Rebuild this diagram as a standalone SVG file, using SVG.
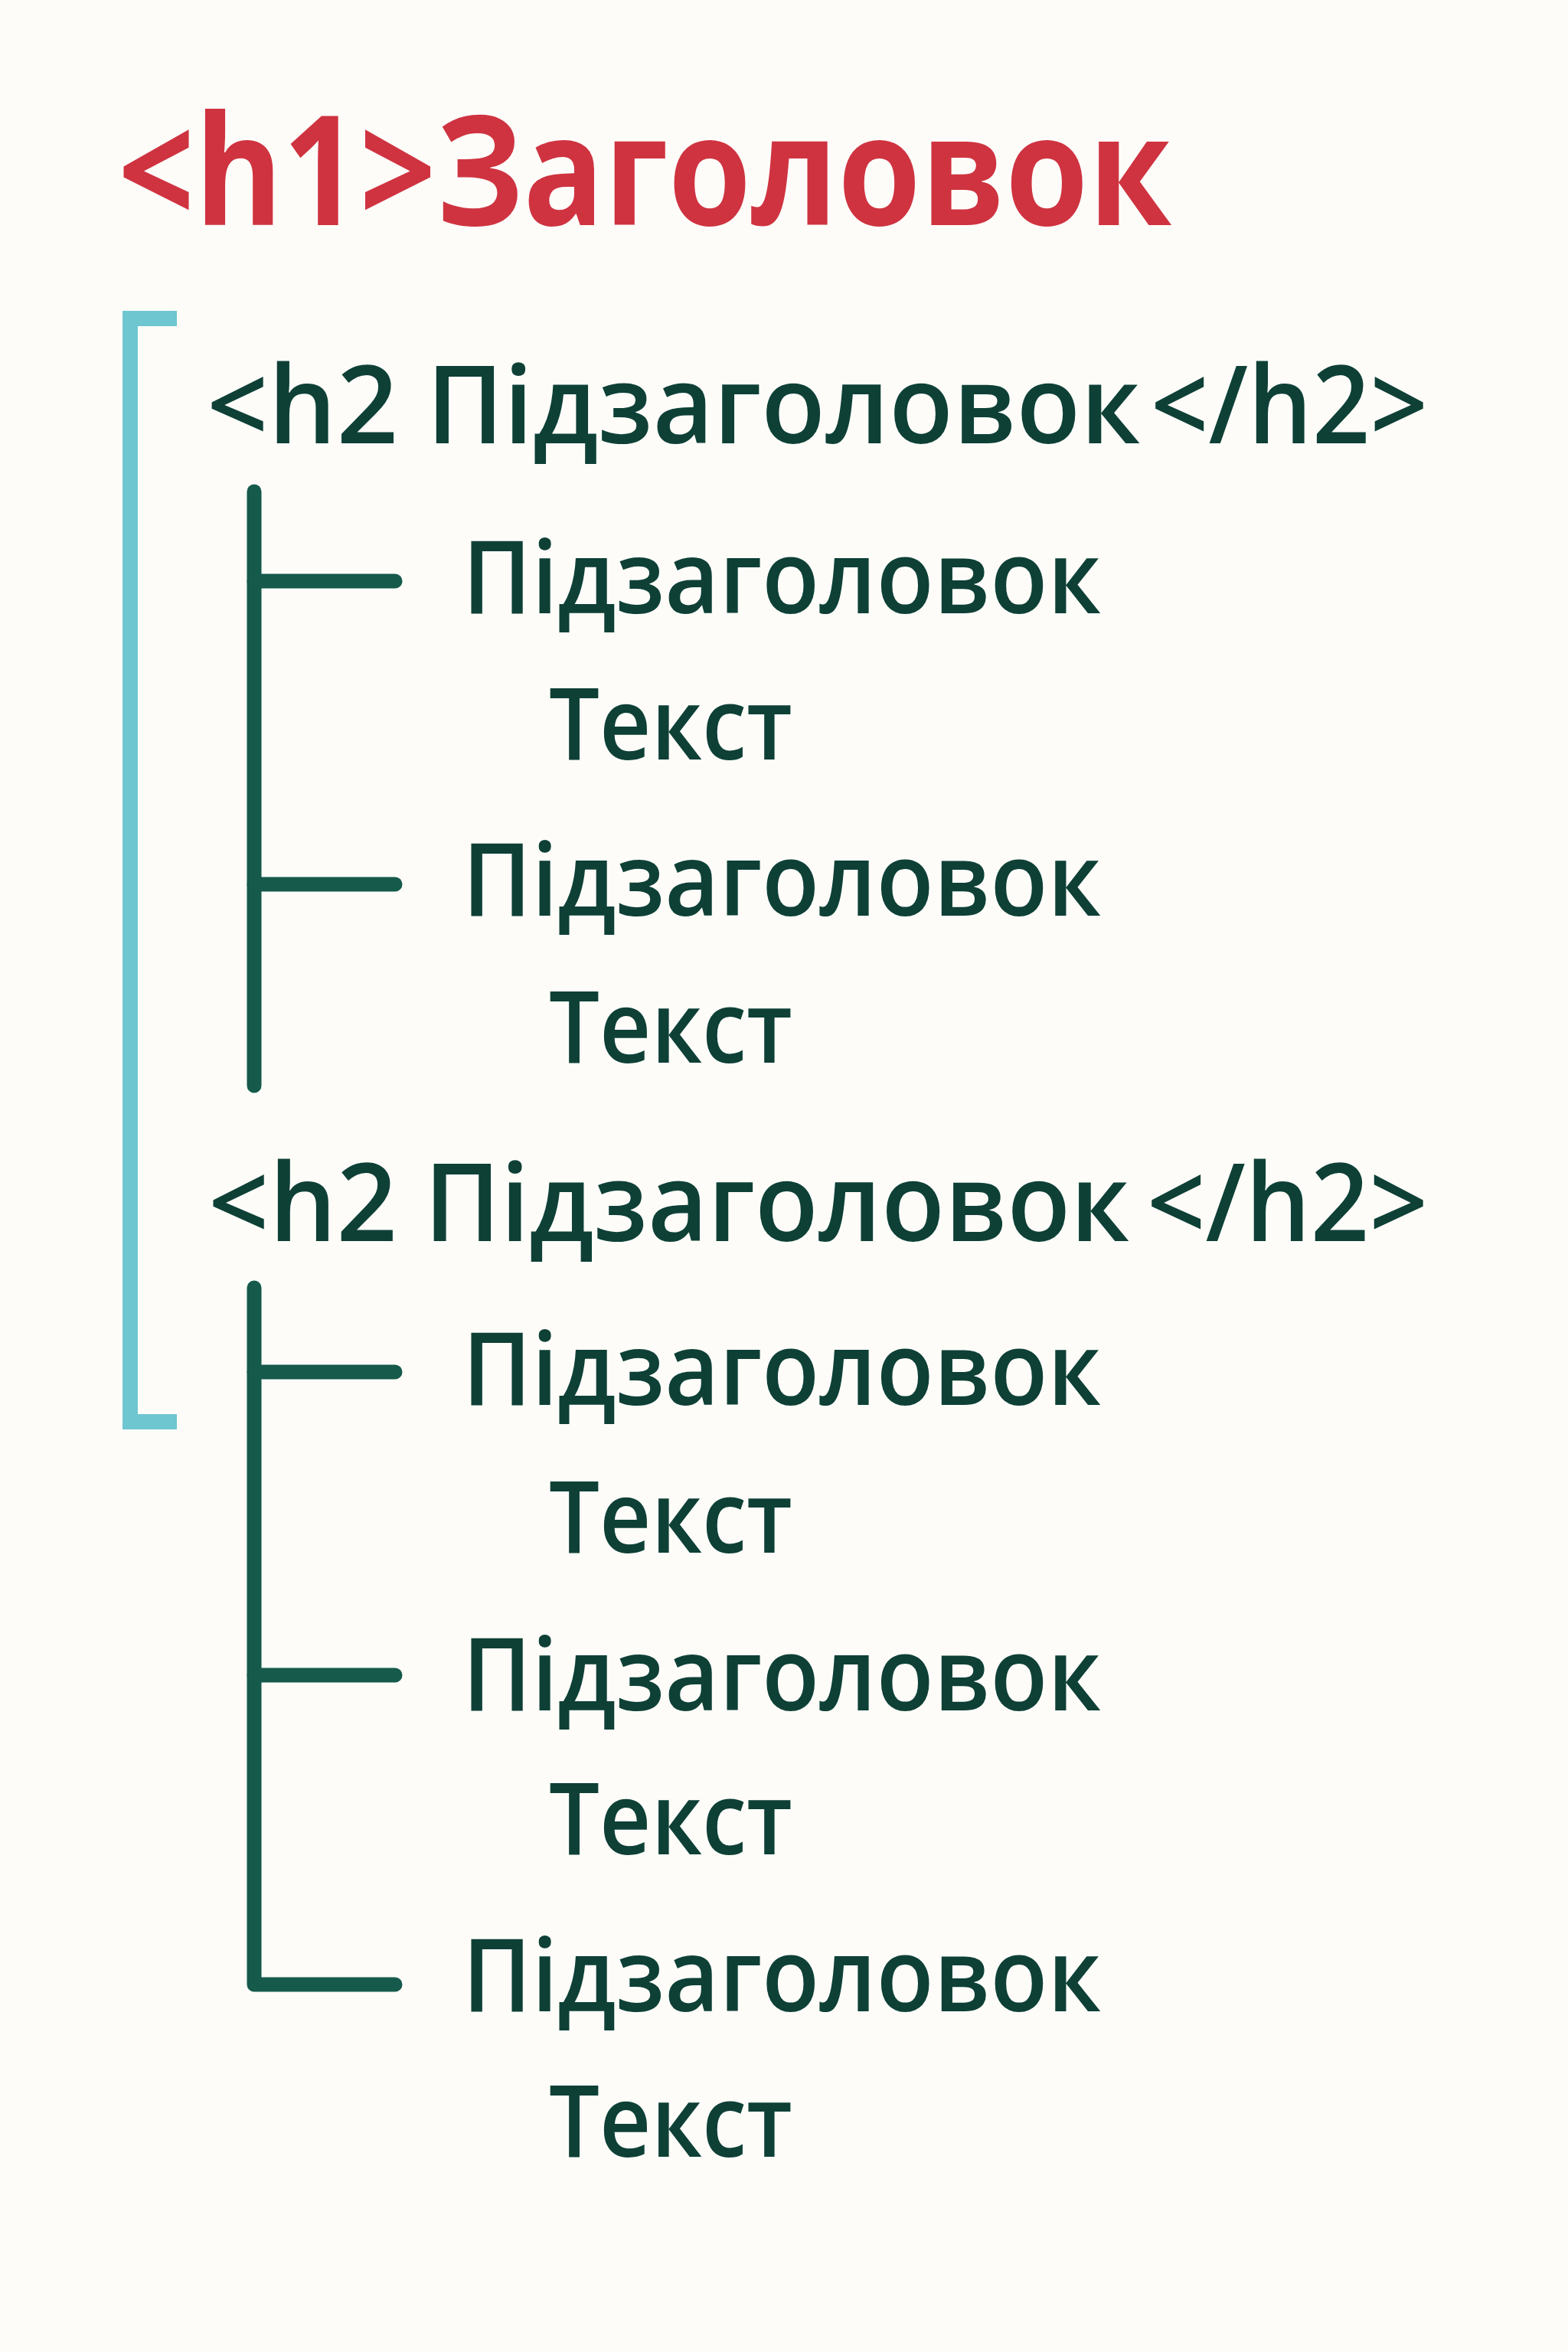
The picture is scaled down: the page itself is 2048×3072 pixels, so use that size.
<svg xmlns="http://www.w3.org/2000/svg" width="2048" height="3072" viewBox="0 0 2048 3072">
<style>
text { font-family: "Open Sans", "Noto Sans", "DejaVu Sans", sans-serif; font-weight: 600; }
.h1 { fill: #cf3340; font-size: 199px; font-weight: 700; }
.h2 { fill: #0e4036; font-size: 141px; }
.sub { fill: #0e4036; font-size: 133px; }
.txt { fill: #0e4036; font-size: 130px; }
.tree { fill: none; stroke: #155a4b; stroke-width: 19; stroke-linecap: round; stroke-linejoin: round; }
.bracket { fill: none; stroke: #6ec6d1; stroke-width: 20; stroke-linecap: butt; stroke-linejoin: miter; }
</style>
<rect x="0" y="0" width="2048" height="3072" fill="#fdfcf9"/>

<g id="connectors">
  <path class="bracket" d="M231,416 H170 V1857 H231"/>
  <path class="tree" d="M332,642 V1418"/>
  <path class="tree" d="M332,759 H516"/>
  <path class="tree" d="M332,1155 H516"/>
  <path class="tree" d="M332,1682 V2592 H516"/>
  <path class="tree" d="M332,1792 H516"/>
  <path class="tree" d="M332,2188 H516"/>
</g>

<g id="title">
  <text class="h1" x="154" y="294" textLength="1376" lengthAdjust="spacingAndGlyphs">&lt;h1&gt;Заголовок</text>
</g>

<g id="h2-1">
  <text class="h2" x="270" y="579" textLength="250" lengthAdjust="spacingAndGlyphs">&lt;h2</text>
  <text class="h2" x="557" y="579" textLength="932" lengthAdjust="spacingAndGlyphs">Підзаголовок</text>
  <text class="h2" x="1503" y="579" textLength="362" lengthAdjust="spacingAndGlyphs">&lt;/h2&gt;</text>
</g>
<g id="sub-1-1">
  <text class="sub" x="604" y="801" textLength="834" lengthAdjust="spacingAndGlyphs">Підзаголовок</text>
  <text class="txt" x="717" y="992" textLength="318" lengthAdjust="spacingAndGlyphs">Текст</text>
</g>
<g id="sub-1-2">
  <text class="sub" x="604" y="1196" textLength="834" lengthAdjust="spacingAndGlyphs">Підзаголовок</text>
  <text class="txt" x="717" y="1388" textLength="318" lengthAdjust="spacingAndGlyphs">Текст</text>
</g>

<g id="h2-2">
  <text class="h2" x="272" y="1621" textLength="247" lengthAdjust="spacingAndGlyphs">&lt;h2</text>
  <text class="h2" x="554" y="1621" textLength="921" lengthAdjust="spacingAndGlyphs">Підзаголовок</text>
  <text class="h2" x="1498" y="1621" textLength="367" lengthAdjust="spacingAndGlyphs">&lt;/h2&gt;</text>
</g>
<g id="sub-2-1">
  <text class="sub" x="604" y="1835" textLength="834" lengthAdjust="spacingAndGlyphs">Підзаголовок</text>
  <text class="txt" x="717" y="2028" textLength="318" lengthAdjust="spacingAndGlyphs">Текст</text>
</g>
<g id="sub-2-2">
  <text class="sub" x="604" y="2234" textLength="834" lengthAdjust="spacingAndGlyphs">Підзаголовок</text>
  <text class="txt" x="717" y="2422" textLength="318" lengthAdjust="spacingAndGlyphs">Текст</text>
</g>
<g id="sub-2-3">
  <text class="sub" x="604" y="2627" textLength="834" lengthAdjust="spacingAndGlyphs">Підзаголовок</text>
  <text class="txt" x="717" y="2817" textLength="318" lengthAdjust="spacingAndGlyphs">Текст</text>
</g>
</svg>
